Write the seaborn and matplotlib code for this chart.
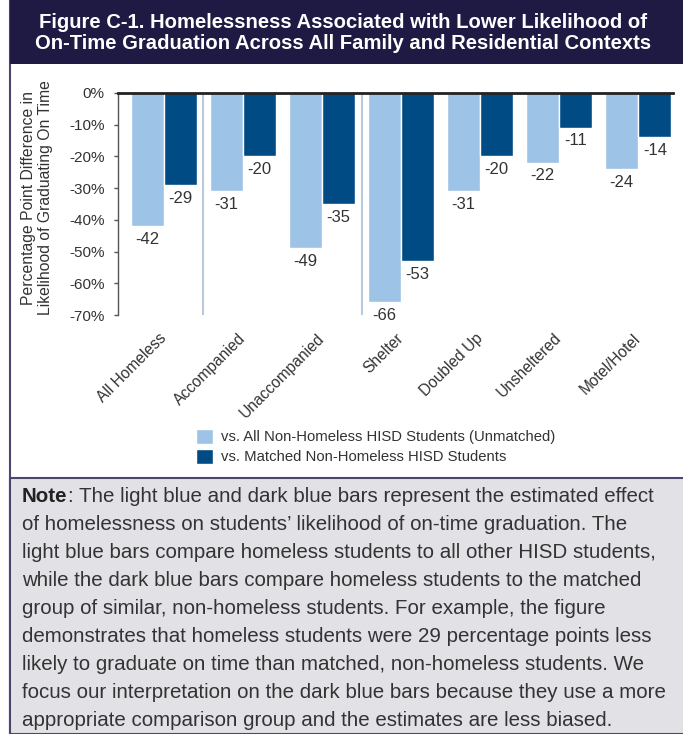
import pandas as pd
import matplotlib.pyplot as plt
import seaborn as sns
from matplotlib import font_manager
from matplotlib.patches import Rectangle

# data
contexts = ['All Homeless', 'Accompanied', 'Unaccompanied', 'Shelter',
            'Doubled Up', 'Unsheltered', 'Motel/Hotel']
unmatched = [-42, -31, -49, -66, -31, -22, -24]
matched = [-29, -20, -35, -53, -20, -11, -14]
series_names = ['vs. All Non-Homeless HISD Students (Unmatched)',
                'vs. Matched Non-Homeless HISD Students']
y_ticks = [0, -10, -20, -30, -40, -50, -60, -70]
y_tick_labels = ['0%', '-10%', '-20%', '-30%', '-40%', '-50%', '-60%', '-70%']
separators = [0.5, 2.5]

title = ('Figure C-1. Homelessness Associated with Lower Likelihood of\n'
         'On-Time Graduation Across All Family and Residential Contexts')
y_label = 'Percentage Point Difference in\nLikelihood of Graduating On Time'
note_lines = [
    ': The light blue and dark blue bars represent the estimated effect',
    'of homelessness on students\u2019 likelihood of on-time graduation. The',
    'light blue bars compare homeless students to all other HISD students,',
    'while the dark blue bars compare homeless students to the matched',
    'group of similar, non-homeless students. For example, the figure',
    'demonstrates that homeless students were 29 percentage points less',
    'likely to graduate on time than matched, non-homeless students. We',
    'focus our interpretation on the dark blue bars because they use a more',
    'appropriate comparison group and the estimates are less biased.',
]

LIGHT = '#9dc3e6'
DARK = '#004b84'
NAVY = '#1f1a44'
BORDER = '#4b4670'
TEXT = '#333333'

W, H = 683, 734

sns.set_style('white')
plt.rcParams['font.family'] = ['Liberation Sans', 'DejaVu Sans']
installed = {f.name for f in font_manager.fontManager.ttflist}
narrow = 'Liberation Sans Narrow' if 'Liberation Sans Narrow' in installed else 'Liberation Sans'

df = pd.DataFrame({
    'context': contexts * 2,
    'diff': unmatched + matched,
    'comparison': [series_names[0]] * len(contexts) + [series_names[1]] * len(contexts),
})

fig = plt.figure(figsize=(W / 100, H / 100), dpi=100)

# panel frame, title band and note box
fig.patches.append(Rectangle((10 / W, 0), 1, 1, transform=fig.transFigure,
                             fill=False, edgecolor=BORDER, lw=1.5, zorder=0))
fig.patches.append(Rectangle((10 / W, 1 - 64 / H), 1, 64 / H, transform=fig.transFigure,
                             facecolor=NAVY, edgecolor='none', zorder=1))
fig.patches.append(Rectangle((10 / W, 0), 1, (H - 478) / H, transform=fig.transFigure,
                             facecolor='#e1e1e6', edgecolor=BORDER, lw=1.5, zorder=1))

fig.text(343 / W, 1 - 33 / H, title, ha='center', va='center', color='white',
         fontsize=14.6, fontweight='bold', linespacing=1.15)

ax = fig.add_axes([118 / W, 1 - 315 / H, (673 - 118) / W, (315 - 93) / H])
sns.barplot(data=df, x='context', y='diff', hue='comparison', palette=[LIGHT, DARK],
            width=0.84, gap=0, saturation=1, ax=ax, zorder=2)

for c in ax.containers:
    ax.bar_label(c, fmt='{:.0f}', padding=4, fontsize=12, color=TEXT)

for s in separators:
    ax.plot([s, s], [0, -70], color='#b9c9dd', lw=1.5, zorder=1)

ax.set_xlim(-0.58, 6.44)
ax.set_ylim(-70, 0)
ax.set_yticks(y_ticks, y_tick_labels)
ax.tick_params(axis='y', left=True, length=3, width=1, color='#555555', pad=6.5,
               labelsize=11, labelcolor=TEXT)
ax.tick_params(axis='x', length=0, pad=15)
ax.set_xticks(range(len(contexts)), contexts)
for lab in ax.get_xticklabels():
    lab.set_rotation(45)
    lab.set_ha('right')
    lab.set_va('center')
    lab.set_rotation_mode('anchor')
    lab.set_fontfamily(narrow)
    lab.set_fontsize(11.2)
    lab.set_color(TEXT)
ax.set_xlabel('')
ax.set_ylabel('')
for side in ['right', 'bottom']:
    ax.spines[side].set_visible(False)
ax.spines['top'].set_color('#222222')
ax.spines['top'].set_linewidth(2)
ax.spines['top'].set_zorder(5)
ax.spines['left'].set_color('#555555')
ax.spines['left'].set_linewidth(1)

fig.text(37 / W, 1 - 198 / H, y_label, rotation=90, ha='center', va='center',
         multialignment='center', fontsize=11.3, color=TEXT, linespacing=1.1)

handles, labels = ax.get_legend_handles_labels()
ax.legend(handles, labels, loc='upper left', bbox_to_anchor=(196 / W, 1 - 429 / H),
          bbox_transform=fig.transFigure, frameon=False, borderaxespad=0, borderpad=0,
          handlelength=1.15, handleheight=1.15, handletextpad=0.55, labelspacing=0.3,
          prop={'family': narrow, 'size': 10.7}, labelcolor=TEXT)

# note paragraph, bold "Note" run first
fig.canvas.draw()
renderer = fig.canvas.get_renderer()
x0 = 22 / W
bold = fig.text(x0, 1 - 496 / H, 'Note', fontsize=14.8, fontweight='bold', color='#222222',
                va='center')
bw = bold.get_window_extent(renderer).width / W
for i, line in enumerate(note_lines):
    fig.text(x0 + bw if i == 0 else x0, 1 - (496 + 28 * i) / H, line,
             fontsize=14.8, color=TEXT, va='center')

fig.savefig('out.png', dpi=100)
